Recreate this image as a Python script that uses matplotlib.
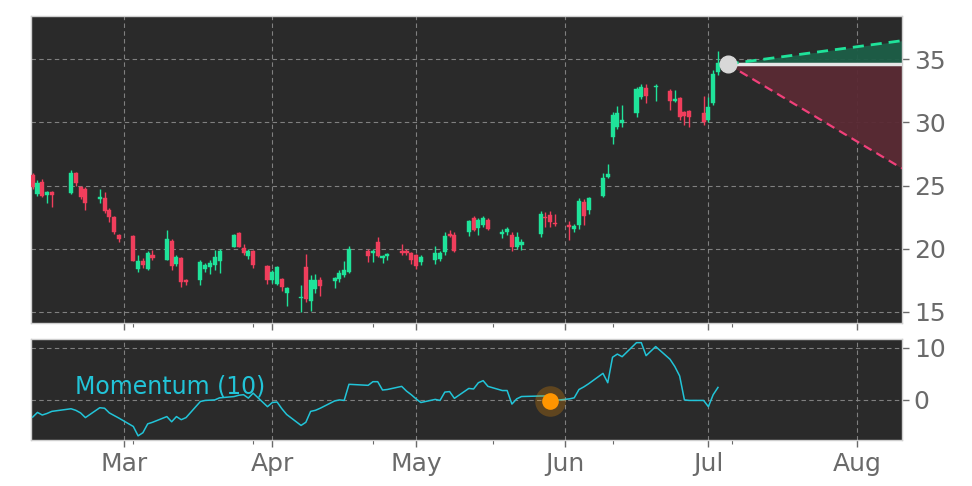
import matplotlib
matplotlib.use("Agg")
import matplotlib.pyplot as plt
import matplotlib.dates as mdates
import numpy as np
import pandas as pd

# ---------------- data ----------------
holidays = ["2025-02-17", "2025-04-18", "2025-05-26", "2025-06-19"]
dates = [d for d in pd.bdate_range("2025-02-10", "2025-07-03") if d.strftime("%Y-%m-%d") not in holidays]

opens = [25.8, 24.3, 25.3, 24.25, 24.5,
         24.4, 26.0, 24.9, 24.7,
         23.9, 24.0, 23.1, 22.5, 21.05,
         21.0, 18.4, 19.0, 18.4, 19.5,
         19.15, 20.65, 18.8, 19.3, 17.55,
         17.55, 18.4, 18.55, 18.75, 19.0,
         20.15, 21.25, 20.05, 19.45, 19.8,
         18.6, 17.55, 17.25, 17.6, 16.5,
         16.1, 18.55, 15.85, 16.85, 17.55,
         17.45, 17.6, 17.9, 18.15,
         19.85, 19.65, 20.55, 19.25, 19.45,
         19.8, 19.85, 19.65, 19.5, 18.95,
         19.1, 19.2, 19.75, 21.2, 21.05,
         21.35, 22.4, 21.65, 21.85, 22.3,
         21.2, 21.35, 21.1, 20.1, 20.3,
         21.15, 22.5, 22.65, 22.05,
         21.85, 21.6, 21.85, 23.7, 23.05,
         24.2, 25.7, 28.85, 29.6, 29.95,
         30.7, 32.0, 32.7, 32.75,
         32.45, 31.7, 31.95, 30.8, 30.9,
         30.75, 30.2, 31.5, 34.0]
highs = [26.0, 25.45, 25.5, 24.6, 24.6,
         26.2, 26.1, 25.0, 24.9,
         24.7, 24.45, 23.2, 22.6, 21.2,
         21.1, 19.5, 19.3, 19.85, 19.9,
         21.45, 20.8, 19.5, 19.35, 17.6,
         19.1, 18.9, 19.1, 19.9, 20.0,
         21.2, 21.3, 20.4, 19.95, 19.9,
         18.7, 18.3, 18.6, 17.7, 17.0,
         17.1, 19.55, 17.9, 18.0, 17.8,
         17.8, 18.3, 19.0, 20.2,
         19.95, 20.0, 20.9, 19.5, 19.7,
         20.4, 20.0, 19.75, 19.6, 19.5,
         20.2, 19.8, 21.3, 21.5, 21.3,
         22.3, 22.6, 22.45, 22.6, 22.4,
         21.6, 21.75, 21.35, 21.35, 20.8,
         23.0, 22.9, 23.0, 22.75,
         22.2, 21.95, 24.0, 23.9, 24.1,
         26.0, 26.7, 30.8, 31.3, 31.4,
         32.8, 33.0, 33.0, 33.0,
         32.6, 32.55, 32.0, 30.9, 31.0,
         32.1, 32.0, 34.1, 35.65]
lows = [24.7, 24.2, 24.1, 23.6, 23.3,
        24.3, 25.0, 23.9, 23.1,
        23.65, 22.8, 22.1, 21.2, 20.5,
        19.0, 18.2, 18.5, 18.3, 19.1,
        19.1, 18.3, 18.6, 17.0, 17.1,
        17.1, 18.15, 18.0, 18.3, 18.05,
        20.1, 20.1, 19.5, 19.2, 18.5,
        17.25, 17.3, 17.1, 16.65, 15.5,
        15.0, 15.8, 15.05, 16.5, 16.25,
        16.9, 17.4, 17.8, 18.1,
        18.95, 18.95, 19.35, 18.9, 19.1,
        19.5, 19.5, 18.8, 18.4, 18.7,
        18.8, 19.0, 19.5, 20.9, 19.75,
        21.0, 21.4, 21.1, 21.7, 21.5,
        20.85, 21.1, 19.85, 19.95, 19.9,
        20.9, 21.75, 21.75, 21.8,
        20.7, 21.3, 21.6, 21.85, 22.75,
        24.1, 25.6, 28.27, 29.5, 29.65,
        30.4, 31.8, 31.5, 31.7,
        30.95, 31.6, 30.2, 29.8, 29.6,
        29.8, 30.0, 31.4, 33.7]
closes = [24.9, 25.2, 24.2, 24.5, 24.25,
          25.95, 25.2, 24.1, 23.6,
          24.1, 23.0, 22.5, 21.3, 20.8,
          19.05, 19.0, 18.75, 19.7, 19.25,
          20.8, 18.6, 19.35, 17.4, 17.4,
          18.95, 18.7, 18.9, 19.35, 19.85,
          21.1, 20.15, 19.65, 19.85, 18.75,
          17.5, 18.15, 18.55, 16.95, 16.9,
          16.2, 16.0, 17.5, 17.55, 17.05,
          17.7, 18.1, 18.3, 19.95,
          19.4, 19.8, 19.4, 19.4, 19.6,
          19.7, 19.7, 19.1, 18.6, 19.35,
          19.7, 19.7, 21.0, 21.0, 19.8,
          22.2, 21.5, 22.3, 22.4, 21.55,
          21.35, 21.55, 20.1, 20.9, 20.55,
          22.75, 22.4, 22.1, 21.95,
          21.7, 21.8, 23.8, 22.6, 24.0,
          25.6, 25.9, 30.57, 30.7, 30.2,
          32.6, 32.8, 32.1, 32.9,
          31.7, 31.85, 30.45, 30.5, 30.45,
          30.05, 31.2, 33.85, 34.65]
momentum = [-3.3, -2.4, -2.9, -2.6, -2.2,
            -1.7, -2.0, -2.5, -3.4,
            -1.5, -1.6, -2.5, -3.0, -3.5,
            -5.1, -6.9, -6.3, -4.6, -4.3,
            -3.2, -4.2, -3.2, -3.8, -3.4,
            -0.3, -0.1, -0.05, 0.0, 0.4,
            0.64, 0.9, 1.0, 0.35, 1.3,
            -1.3, -0.5, -0.4, -1.7, -2.8,
            -4.9, -4.3, -2.2, -2.0, -1.6,
            -0.2, 0.0, -0.1, 3.0,
            2.8, 3.5, 3.5, 1.9, 2.0,
            2.6, 1.7, 1.0, 0.2, -0.5,
            0.1, -0.1, 1.5, 1.6, 0.3,
            2.2, 2.1, 3.3, 3.7, 2.6,
            1.8, 1.8, -0.8, 0.2, 0.65,
            0.75, 0.75, -0.2, -0.1,
            0.2, 0.4, 2.0, 2.5, 3.1,
            5.1, 3.3, 8.2, 8.8, 8.3,
            11.0, 11.0, 8.5, 10.25,
            7.8, 6.4, 4.6, 0.0, -0.1,
            -0.1, -1.3, 1.0, 2.4]

signal_date = "2025-05-29"
signal_value = -0.2

proj_start = "2025-07-05"
proj_end = "2025-08-10 10:00"
last_close = 34.6
proj_high = 36.45
proj_low = 26.35

minor_tick_dates = ["2025-03-03", "2025-03-28", "2025-04-22", "2025-05-17", "2025-06-11", "2025-07-06"]

# ---------------- style ----------------
BG = "#2a2a2a"
UP = "#1fe39a"
DOWN = "#f03e5c"
GRID = "#8a8a8a"
TXT = "#6a6a6a"
CYAN = "#22c4d8"

fig = plt.figure(figsize=(9.72, 4.86), dpi=100)
fig.patch.set_facecolor("white")
ax = fig.add_axes([31/972, 1-323/486, 871/972, 307/486])
ax2 = fig.add_axes([31/972, 1-440/486, 871/972, 101/486])

xd = mdates.date2num(pd.to_datetime(dates))
xlim = (mdates.date2num(pd.Timestamp("2025-03-01")) - 19.35,
        mdates.date2num(pd.Timestamp("2025-08-01")) + 9.4)

# candles
w = 0.85
for x, o, h, l, c in zip(xd, opens, highs, lows, closes):
    col = UP if c >= o else DOWN
    ax.vlines(x, l, h, color=col, lw=1.0, zorder=3)
    bot = min(o, c)
    hgt = max(abs(c - o), 0.06)
    ax.bar(x, hgt, width=w, bottom=bot, color=col, edgecolor=col, lw=0.3, zorder=4)

# projection
xs0 = mdates.date2num(pd.Timestamp(proj_start))
xs1 = mdates.date2num(pd.Timestamp(proj_end))
ax.fill_between([xs0, xs1], [last_close, last_close], [last_close, proj_high],
                color="#1d5e47", alpha=0.95, zorder=2, lw=0)
ax.fill_between([xs0, xs1], [last_close, last_close], [last_close, proj_low],
                color="#5a2a34", alpha=0.95, zorder=2, lw=0)
ax.plot([xs0, xs1], [last_close, last_close], color="#e6e6e6", lw=2.5, zorder=5)
ax.plot([xs0, xs1], [last_close, proj_high], color="#1fe39a", lw=2, ls=(0, (4, 2.5)), zorder=5)
ax.plot([xs0, xs1], [last_close, proj_low], color="#f0407a", lw=1.6, ls=(0, (4, 2.5)), zorder=5)
ax.plot([xs0], [last_close], "o", ms=12, color="#d8d8d8", zorder=6)

# momentum
ax2.plot(xd, momentum, color=CYAN, lw=1.1, zorder=3)
sx = mdates.date2num(pd.Timestamp(signal_date))
ax2.plot([sx], [signal_value], "o", ms=22, color="#ff9900", alpha=0.25, mec="none", zorder=4)
ax2.plot([sx], [signal_value], "o", ms=12, color="#ff9500", mec="none", zorder=5)
ax2.text(0.05, 0.53, "Momentum (10)", transform=ax2.transAxes, color=CYAN,
         fontsize=17, va="center", ha="left", zorder=6)

for a in (ax, ax2):
    a.set_facecolor(BG)
    a.set_xlim(*xlim)
    a.xaxis.set_major_locator(mdates.MonthLocator())
    a.xaxis.set_major_formatter(mdates.DateFormatter("%b"))
    a.xaxis.set_minor_locator(matplotlib.ticker.FixedLocator(
        mdates.date2num(pd.to_datetime(minor_tick_dates))))
    a.grid(True, which="major", color=GRID, ls=(0, (4, 3)), lw=0.8, alpha=0.9)
    a.set_axisbelow(True)
    a.yaxis.tick_right()
    a.tick_params(axis="both", which="major", colors=TXT, labelsize=18, length=5, width=1)
    a.tick_params(axis="x", which="minor", colors=TXT, length=3, width=0.8)
    for s in a.spines.values():
        s.set_color("#cfcfcf")
        s.set_linewidth(1)

ax.set_ylim(14.13, 38.4)
ax.set_yticks([15, 20, 25, 30, 35])
ax.tick_params(axis="x", labelbottom=False)
ax2.set_ylim(-7.7, 11.7)
ax2.set_yticks([0, 10])

fig.savefig("out.png", dpi=100, facecolor="white")
